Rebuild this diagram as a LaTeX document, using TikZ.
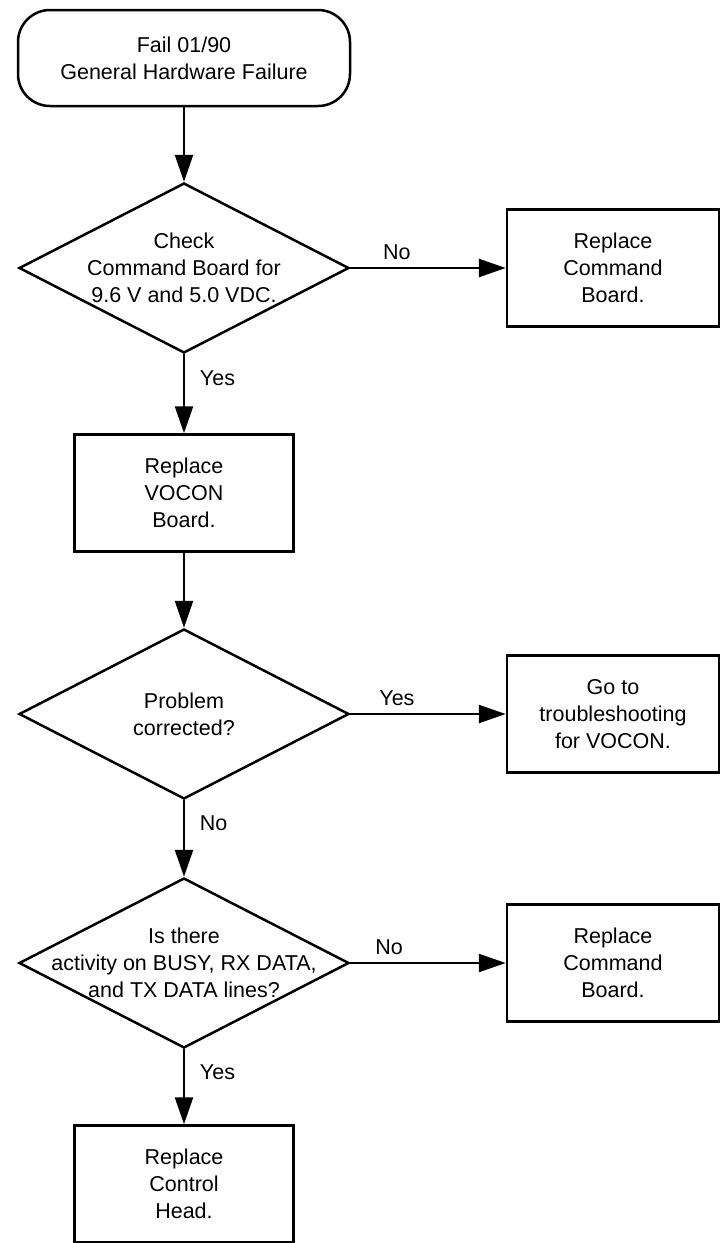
\documentclass[tikz,border=0pt]{standalone}
\usepackage{fontspec}
\setmainfont{Liberation Sans}
\usetikzlibrary{shapes.geometric,arrows.meta}

\begin{document}
\begin{tikzpicture}[x=0.5pt,y=-0.5pt,line width=1.25pt,
every node/.append style={font=\fontsize{10.75}{13.5}\selectfont},
terminal/.style={draw,rounded corners=16pt,minimum width=166pt,minimum height=48pt,align=center},
decision/.style={draw,diamond,minimum width=165pt,minimum height=85pt,inner sep=0pt},
action/.style={draw,minimum width=109.5pt,minimum height=58.5pt,align=center},
sideaction/.style={action,minimum width=106pt},
flow/.style={-{Triangle[length=13.5pt,width=9pt]}}]
\useasboundingbox (0,0) rectangle (720,1243);

\node[terminal] (start) at (184,58)
{Fail 01/90\\General Hardware Failure};

\node[decision,label={[align=center]center:{Check\\Command Board for\\9.6 V and 5.0 VDC.}}] (check) at (184,268) {};
\node[sideaction] (cmdboard) at (613,268)
{Replace\\Command\\Board.};

\node[action] (vocon) at (184,493)
{Replace\\VOCON\\Board.};

\node[decision,label={[align=center]center:{Problem\\corrected?}}] (corrected) at (184,714) {};
\node[sideaction] (vocontest) at (613,714)
{Go to\\troubleshooting\\for VOCON.};

\node[decision,label={[align=center]center:{Is there\\activity on BUSY, RX DATA,\\and TX DATA lines?}}] (activity) at (184,963) {};
\node[sideaction] (cmdboardb) at (613,963)
{Replace\\Command\\Board.};

\node[action] (head) at (184,1184)
{Replace\\Control\\Head.};

\draw[flow] (start) -- (check);
\draw[flow] (check) -- node[above,pos=0.3] {No} (cmdboard);
\draw[flow] (check) -- node[right=4pt,pos=0.3] {Yes} (vocon);
\draw[flow] (vocon) -- (corrected);
\draw[flow] (corrected) -- node[above,pos=0.3] {Yes} (vocontest);
\draw[flow] (corrected) -- node[right=4pt,pos=0.3] {No} (activity);
\draw[flow] (activity) -- node[above,pos=0.25] {No} (cmdboardb);
\draw[flow] (activity) -- node[right=4pt,pos=0.3] {Yes} (head);
\end{tikzpicture}
\end{document}
